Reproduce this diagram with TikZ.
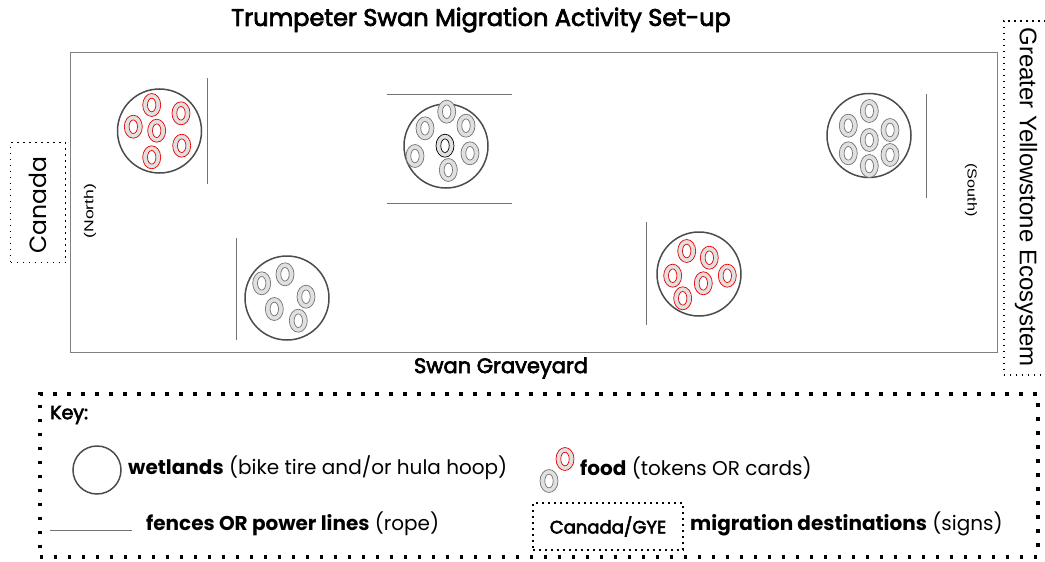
\documentclass[tikz,border=0pt]{standalone}
\usepackage{fontspec}
\setmainfont{Poppins}
\newfontfamily\medf[FakeBold=3]{Poppins}
\newfontfamily\arialf{Liberation Sans}
\begin{document}
\begin{tikzpicture}[x=1pt,y=-1pt,
  pics/tok/.style={code={
    \draw[#1,fill=black!12,line width=0.7pt] (0,0) ellipse (9pt and 11.5pt);
    \draw[#1,fill=white,line width=0.7pt] (0,0) ellipse (4.2pt and 6.8pt);}},
  wet/.style={circle,draw=black!70,line width=1.5pt,minimum size=84pt,inner sep=0pt},
  fence/.style={draw=black!55,line width=1pt},
  smalldots/.style={draw=black,line width=1.6pt,dash pattern=on 1.6pt off 4.4pt},
  bigdots/.style={draw=black,line width=3.5pt,dash pattern=on 3.5pt off 10.5pt},
  lbl/.style={inner sep=0pt,anchor=west},
  keyfont/.style={font=\fontsize{20}{24}\selectfont},
  tokred/.style={red!90!black},
  tokgray/.style={black!55}]
\useasboundingbox (0,0) rectangle (1045,562);

% title and field
\node[inner sep=0pt,font=\medf\fontsize{24}{28}\selectfont] (title) at (481,20) {Trumpeter Swan Migration Activity Set-up};
\node[draw=black!50,line width=0.8pt,minimum width=927pt,minimum height=300pt,inner sep=0pt] (field) at (533.5,202) {};
\node[inner sep=0pt,font=\medf\fontsize{21}{25}\selectfont] (grave) at (501,368) {Swan Graveyard};

% destinations
\node[smalldots,minimum width=55pt,minimum height=120pt,inner sep=0pt] (canbox) at (38,202.5) {};
\node[rotate=90,inner sep=0pt,font=\fontsize{23.5}{28}\selectfont] (canada) at (38,205) {Canada};
\node[rotate=90,xscale=1.35,inner sep=0pt,font=\arialf\fontsize{13}{15}\selectfont] (north) at (90,211) {(North)};
\node[rotate=-90,xscale=1.25,inner sep=0pt,font=\arialf\fontsize{13}{15}\selectfont] (south) at (971,190) {(South)};
\node[smalldots,minimum width=60pt,minimum height=354pt,inner sep=0pt,anchor=north west] (gyebox) at (1003,20) {};
\node[rotate=-90,inner sep=0pt,font=\arialf\fontsize{24}{28}\selectfont] (gye) at (1026,197) {Greater Yellowstone Ecosystem};

% wetland 1
\node[wet] (w1) at (159.5,131) {};
\pic at (151.7,105) {tok=tokred};
\pic at (181,113.3) {tok=tokred};
\pic at (133.3,126.7) {tok=tokred};
\pic at (156.7,130.7) {tok=tokred};
\pic at (181.7,145.7) {tok=tokred};
\pic at (151.7,157.3) {tok=tokred};
\coordinate (f1a) at (207,78); \coordinate (f1b) at (207,184);
\draw[fence] (f1a) -- (f1b);

% wetland 2
\node[wet] (w2) at (446,146) {};
\pic at (446.7,111.7) {tok=tokgray};
\pic at (425,128.3) {tok=tokgray};
\pic at (466,125.7) {tok=tokgray};
\pic at (445,145.7) {tok=black};
\pic at (415,156) {tok=tokgray};
\pic at (470,153.3) {tok=tokgray};
\pic at (448.3,170) {tok=tokgray};
\coordinate (f2a) at (387,94); \coordinate (f2b) at (512,94);
\coordinate (f2c) at (387,203); \coordinate (f2d) at (512,203);
\draw[fence] (f2a) -- (f2b);
\draw[fence] (f2c) -- (f2d);

% wetland 3
\node[wet] (w3) at (869,135.5) {};
\pic at (869.3,111) {tok=tokgray};
\pic at (848.3,125.7) {tok=tokgray};
\pic at (890,130) {tok=tokgray};
\pic at (869.3,140) {tok=tokgray};
\pic at (848.3,153.3) {tok=tokgray};
\pic at (890,155) {tok=tokgray};
\pic at (869.3,166) {tok=tokgray};
\coordinate (f3a) at (926,94); \coordinate (f3b) at (926,198);
\draw[fence] (f3a) -- (f3b);

% wetland 4
\node[wet] (w4) at (287,298) {};
\pic at (261.7,283.3) {tok=tokgray};
\pic at (285,274.3) {tok=tokgray};
\pic at (306,296.7) {tok=tokgray};
\pic at (274.3,309) {tok=tokgray};
\pic at (298.3,320.7) {tok=tokgray};
\coordinate (f4a) at (236,238); \coordinate (f4b) at (236,340);
\draw[fence] (f4a) -- (f4b);

% wetland 5
\node[wet] (w5) at (699,274) {};
\pic at (686.7,251) {tok=tokred};
\pic at (709.3,257.7) {tok=tokred};
\pic at (672.7,275.7) {tok=tokred};
\pic at (703.3,283.3) {tok=tokred};
\pic at (727.3,275.7) {tok=tokred};
\pic at (682.7,298.3) {tok=tokred};
\coordinate (f5a) at (646,222); \coordinate (f5b) at (646,325);
\draw[fence] (f5a) -- (f5b);

% key
\node[bigdots,minimum width=998pt,minimum height=163pt,inner sep=0pt,anchor=north west] (keybox) at (38,392) {};
\node[lbl,font=\medf\fontsize{19}{22}\selectfont] (key) at (50,415) {Key:};
\node[wet,minimum size=48pt] (kw) at (97,470) {};
\node[lbl,keyfont] (kwt) at (128,468) {\textbf{wetlands} (bike tire and/or hula hoop)};
\pic at (549,481) {tok=tokgray};
\pic at (565,459) {tok=tokred};
\node[lbl,keyfont] (kft) at (580,468) {\textbf{food} (tokens OR cards)};
\coordinate (kfa) at (50,530); \coordinate (kfb) at (132,530);
\draw[fence] (kfa) -- (kfb);
\node[lbl,keyfont] (kfen) at (146,524) {\textbf{fences OR power lines} (rope)};
\node[smalldots,minimum width=150pt,minimum height=47pt,inner sep=0pt,font=\medf\fontsize{18}{21}\selectfont] (kdest) at (608,526.5) {Canada/GYE};
\node[lbl,keyfont] (kdt) at (690,524) {\textbf{migration destinations} (signs)};
\end{tikzpicture}
\end{document}
